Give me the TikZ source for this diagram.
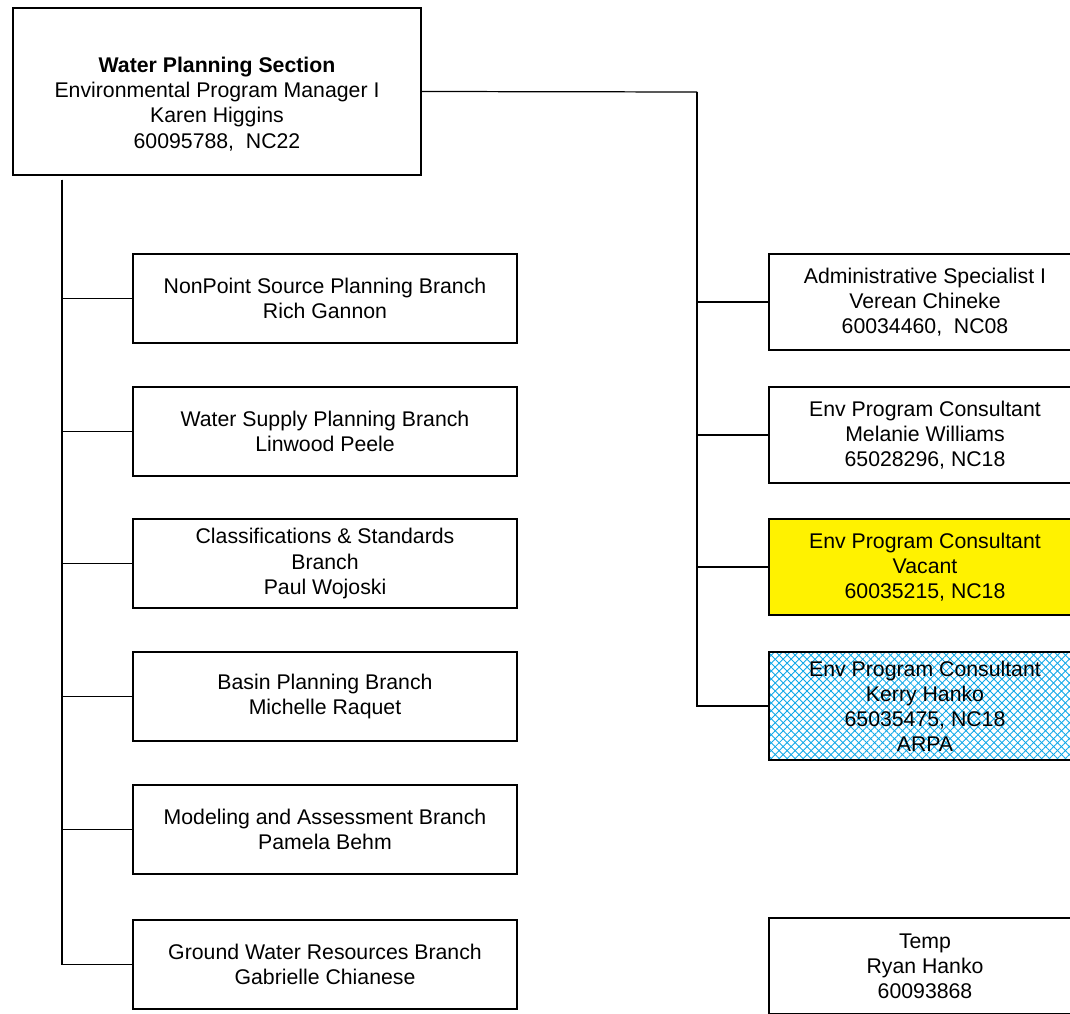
\documentclass[tikz,border=0pt]{standalone}
\usepackage{fontspec}
\setmainfont{Liberation Sans}
\usetikzlibrary{patterns.meta}

\definecolor{hatchblue}{HTML}{10A8E8}
\tikzset{
  posbox/.style={draw, line width=1.1pt, rectangle, align=center, inner sep=0pt,
    font=\fontsize{12.1}{14.3}\selectfont},
  leftbox/.style={posbox, minimum width=384*0.02cm, minimum height=89*0.02cm},
  rightbox/.style={posbox, minimum width=312*0.02cm, minimum height=96*0.02cm},
  link/.style={line width=0.7pt}
}

\begin{document}
\begin{tikzpicture}[x=0.02cm,y=-0.02cm]
\useasboundingbox (0,0) rectangle (1070,1013);
\clip (0,0) rectangle (1070,1013);

% Section head
\node [posbox, minimum width=408*0.02cm, minimum height=167*0.02cm] (top) at (217,91.5)
  {\rule{0pt}{23pt}\textbf{Water Planning Section}\\Environmental Program Manager I\\Karen Higgins\\60095788,\ \ NC22};

% Branches
\node [leftbox] (b1) at (325,298.5) {NonPoint Source Planning Branch\\Rich Gannon};
\node [leftbox] (b2) at (325,431.5) {Water Supply Planning Branch\\Linwood Peele};
\node [leftbox] (b3) at (325,563.5) {Classifications \& Standards\\Branch\\Paul Wojoski};
\node [leftbox] (b4) at (325,696.5) {Basin Planning Branch\\Michelle Raquet};
\node [leftbox] (b5) at (325,829.5) {Modeling and Assessment Branch\\Pamela Behm};
\node [leftbox] (b6) at (325,964.5) {Ground Water Resources Branch\\Gabrielle Chianese};

% Staff
\node [rightbox] (r1) at (925,302) {Administrative Specialist I\\Verean Chineke\\60034460,\ \ NC08};
\node [rightbox] (r2) at (925,435) {Env Program Consultant\\Melanie Williams\\65028296, NC18};
\node [rightbox, fill=yellow] (r3) at (925,567) {Env Program Consultant\\Vacant\\60035215, NC18};
\node [rightbox, minimum height=108*0.02cm,
  pattern={Lines[angle=45,distance=3.2pt,line width=0.5pt]}, pattern color=hatchblue] (r4) at (925,706) {};
\node [rightbox, minimum height=108*0.02cm,
  pattern={Lines[angle=-45,distance=3.2pt,line width=0.5pt]}, pattern color=hatchblue] (r4b) at (925,706)
  {Env Program Consultant\\Kerry Hanko\\65035475, NC18\\ARPA};
\node [rightbox] (temp) at (925,966) {Temp\\Ryan Hanko\\60093868};

% Left connections
\coordinate (lbus) at (62,180);
\foreach \b in {b1,b2,b3,b4,b5,b6}
\draw [link] (lbus) |- (\b.west);

% Right connections
\coordinate (rbus) at (697,92);
\draw [link] (top.east) -- (rbus);
\foreach \r in {r1,r2,r3,r4}
\draw [link] (rbus) |- (\r.west);

\end{tikzpicture}
\end{document}
